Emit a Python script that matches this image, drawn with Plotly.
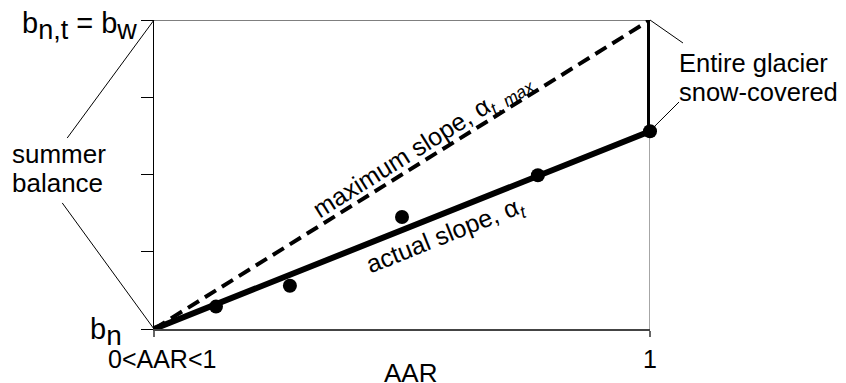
import plotly.graph_objects as go

# ---- data ----
aar_points = [0.125, 0.274, 0.5, 0.774, 1.0]
balance_points = [0.29, 0.56, 1.45, 1.99, 2.56]
actual_x = [0.0, 1.0, 1.0]
actual_y = [0.0, 2.56, 4.0]
max_x = [0.0, 1.0]
max_y = [0.0, 4.0]
y_ticks = [0, 1, 2, 3, 4]
x_ticks = [0, 1]
x_ticklabels = ["0<AAR<1", "1"]

FONT = "Liberation Sans, Arial, sans-serif"

fig = go.Figure()

fig.add_trace(go.Scatter(
    x=max_x, y=max_y, mode="lines",
    line=dict(color="black", width=4, dash="13px,7px"),
    cliponaxis=False, hoverinfo="skip", showlegend=False))

fig.add_trace(go.Scatter(
    x=actual_x, y=actual_y, mode="lines",
    line=dict(color="black", width=6),
    cliponaxis=False, hoverinfo="skip", showlegend=False))

fig.add_trace(go.Scatter(
    x=aar_points, y=balance_points, mode="markers",
    marker=dict(color="black", size=14),
    cliponaxis=False, hoverinfo="skip", showlegend=False))

# frame lines
fig.add_shape(type="line", x0=0, x1=1, y0=4, y1=4, xref="x", yref="y",
              line=dict(color="black", width=1), layer="below")
fig.add_shape(type="line", x0=1, x1=1, y0=0, y1=4, xref="x", yref="y",
              line=dict(color="#888888", width=1.5), layer="below")

# leader lines (paper coordinates)
leaders = [
    (0.0, 1.0, -0.175, 0.618),
    (-0.185, 0.408, 0.0, 0.0),
    (1.0, 1.0, 1.0665, 0.9256),
    (1.0, 0.641, 1.0585, 0.7346),
]
for x0, y0, x1, y1 in leaders:
    fig.add_shape(type="line", xref="paper", yref="paper",
                  x0=x0, y0=y0, x1=x1, y1=y1,
                  line=dict(color="black", width=1))

def ann(text, x, y, size=26, xanchor="center", yanchor="middle", angle=0, align="center"):
    fig.add_annotation(text=text, x=x, y=y, xref="paper", yref="paper",
                       showarrow=False, xanchor=xanchor, yanchor=yanchor,
                       textangle=angle, align=align, borderpad=0,
                       font=dict(family=FONT, size=size, color="black"))

ann('b<sub><span style="font-size:27px">n,t</span></sub> = b<sub><span style="font-size:27px">w</span></sub>',
    -0.032, 0.982, size=29, xanchor="right")
ann('b<sub><span style="font-size:28px">n</span></sub>', -0.0625, -0.011, size=29, xanchor="right")
ann("summer", -0.288, 0.566, size=26, xanchor="left")
ann("balance", -0.288, 0.472, size=26, xanchor="left")
ann("Entire glacier", 1.057, 0.861, size=25.5, xanchor="left")
ann("snow-covered", 1.057, 0.766, size=25.5, xanchor="left")
ann(x_ticklabels[0], 0.016, -0.097, size=25)
ann(x_ticklabels[1], 1.0, -0.097, size=25)
ann("AAR", 0.518, -0.141, size=26)
ann('maximum slope, α<sub><i>t, max</i></sub>', 0.542, 0.592, size=25, angle=-32)
ann('actual slope, α<sub><i>t</i></sub>', 0.588, 0.300, size=25, angle=-21.8)

fig.update_layout(
    width=838, height=375,
    margin=dict(l=146, r=196, t=12, b=54),
    paper_bgcolor="white", plot_bgcolor="white",
    font=dict(family=FONT, color="black"),
    xaxis=dict(range=[0, 1], showline=True, linecolor="#444444", linewidth=2,
               ticks="outside", ticklen=6, tickcolor="#666666", tickwidth=1.5,
               tickvals=x_ticks, showticklabels=False,
               showgrid=False, zeroline=False, fixedrange=True),
    yaxis=dict(range=[0, 4], showline=True, linecolor="black", linewidth=1,
               ticks="outside", ticklen=12, tickcolor="black", tickwidth=1,
               tickvals=y_ticks, showticklabels=False,
               showgrid=False, zeroline=False, fixedrange=True),
)

fig.write_html("out.html")
